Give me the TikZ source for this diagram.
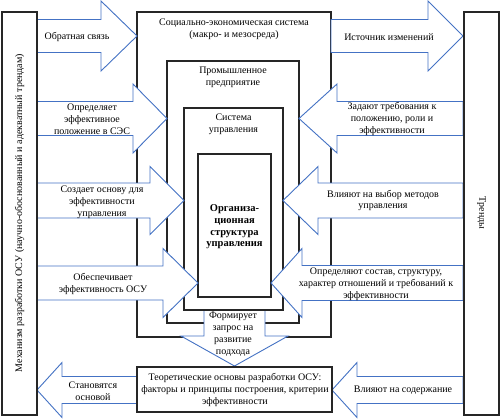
\documentclass[tikz,border=0pt]{standalone}
\usepackage{fontspec}
\setmainfont{Liberation Serif}
\definecolor{arrowblue}{HTML}{4472C4}
\newcommand{\blockarr}[6]{% x0, xhead, xtip, ycentre, shaft half, head half
  \draw[barrow] (#1,#4-#5) -- (#2,#4-#5) -- (#2,#4-#6) -- (#3,#4) -- (#2,#4+#6) -- (#2,#4+#5) -- (#1,#4+#5) -- cycle;}
\begin{document}
\begin{tikzpicture}[x=1pt,y=-1pt,
  box/.style={draw=black!85, line width=1.1pt},
  barrow/.style={draw=arrowblue, line width=0.9pt, fill=white, line join=miter},
  lbl/.style={align=center, font=\fontsize{10}{11.8}\selectfont, inner sep=0pt},
]
\useasboundingbox (0,0) rectangle (501,418);
% nested boxes
\draw[box] (137,12) rectangle (331,337);
\draw[box] (167,61) rectangle (299,323);
% down arrow
\draw[barrow] (204,310) -- (204,336) -- (181,336) -- (234.5,366) -- (288,336) -- (265,336) -- (265,310);
\draw[box] (184,108) rectangle (283,310);
\draw[box] (198,154) rectangle (271,297);
% side arrows
\blockarr{37}{101}{137}{36}{16.5}{35}
\blockarr{331}{428}{463}{36}{16.5}{35}
\blockarr{37}{133}{167}{118.5}{17}{34.5}
\blockarr{463}{337}{299}{118.5}{17}{34.5}
\blockarr{37}{150}{184}{200.5}{17.5}{34}
\blockarr{463}{318}{283}{200.5}{17.5}{34}
\blockarr{37}{163}{198}{283}{17}{34.5}
\blockarr{463}{302}{271}{283}{17.5}{34.5}
\blockarr{137}{62}{37}{390}{13.5}{27.5}
\blockarr{463}{357}{332}{390}{13.5}{27.5}
% outer boxes
\draw[box] (2,12) rectangle (37,415);
\draw[box] (464,12) rectangle (499,415);
\draw[box] (137,367) rectangle (332,412);
% labels
\node[lbl] (ses) at (234,29) {Социально-экономическая система\\(макро- и мезосреда)};
\node[lbl] (ent) at (233,77.5) {Промышленное\\предприятие};
\node[lbl] (ctrl) at (233.5,124.5) {Система\\управления};
\node[lbl, font=\fontsize{10.5}{11.7}\selectfont\bfseries] (org) at (234.5,227) {Организа-\\ционная\\структура\\управления};
\node[lbl, rotate=90] (mech) at (19.5,213) {Механизм разработки ОСУ (научно-обоснованный и адекватный трендам)};
\node[lbl, rotate=-90] (trends) at (481.5,213) {Тренды};
\node[lbl] (t1) at (77,37) {Обратная связь};
\node[lbl] (t2) at (389,37) {Источник изменений};
\node[lbl] (t3) at (92,119) {Определяет\\эффективное\\положение в СЭС};
\node[lbl] (t4) at (392,119) {Задают требования к\\положению, роли и\\эффективности};
\node[lbl] (t5) at (102,202) {Создает основу для\\эффективности\\управления};
\node[lbl] (t6) at (383,200.5) {Влияют на выбор методов\\управления};
\node[lbl] (t7) at (103,284) {Обеспечивает\\эффективность ОСУ};
\node[lbl] (t8) at (376,284) {Определяют состав, структуру,\\характер отношений и требований к\\эффективности};
\node[lbl] (t9) at (233,334) {Формирует\\запрос на\\развитие\\подхода};
\node[lbl] (theory) at (235,390) {Теоретические основы разработки ОСУ:\\факторы и принципы построения, критерии\\эффективности};
\node[lbl] (t11) at (93,391) {Становятся\\основой};
\node[lbl] (t12) at (403,390) {Влияют на содержание};
\end{tikzpicture}
\end{document}
